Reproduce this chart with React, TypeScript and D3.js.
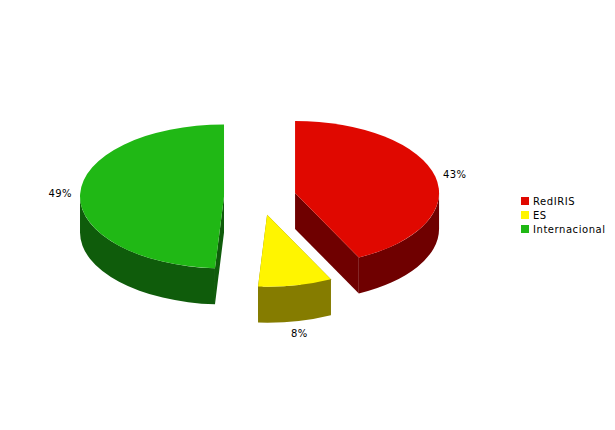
import React from 'react'
import * as d3 from 'd3'

const categories = ['RedIRIS', 'ES', 'Internacional']
const values = [42.7, 8.3, 49]
const topColors = ['#e00800', '#fff500', '#20b815']
const sideColors = ['#6f0000', '#857c00', '#0f5c0b']

const W = 615
const H = 430
const cx = 260
const cy = 197
const R = 144
const squash = 0.5
const depth = 36
const explode = 36
const labelR = 200

const fontFamily = '"DejaVu Sans", Verdana, sans-serif'

const pie = d3.pie<number>().sort(null).value(d => d)
const slices = pie(values)
const arc = d3.arc<d3.PieArcDatum<number>>().innerRadius(0).outerRadius(R)

// angle 0 is 12 o'clock, going clockwise
const rim = (a: number, r = R): [number, number] => [r * Math.sin(a), -r * Math.cos(a) * squash]

const outerWall = (a0: number, a1: number) => {
    // only the front half of the rim can be seen
    const from = Math.max(a0, Math.PI / 2)
    const to = Math.min(a1, Math.PI * 1.5)
    if (to <= from) return null
    const [x0, y0] = rim(from)
    const [x1, y1] = rim(to)
    const ry = R * squash
    return `M${x0},${y0}A${R},${ry} 0 0 1 ${x1},${y1}L${x1},${y1 + depth}A${R},${ry} 0 0 0 ${x0},${y0 + depth}Z`
}

const cutWall = (a: number) => {
    const [x, y] = rim(a)
    return `M0,0L${x},${y}L${x},${y + depth}L0,${depth}Z`
}

const App: React.FC = () => {
    return (
        <svg width={W} height={H} style={{ position: 'absolute', left: 0, top: 0, background: '#fff' }}>
            {[2, 0, 1].map(i => {
                const s = slices[i]
                const mid = (s.startAngle + s.endAngle) / 2
                const [dx, dy] = rim(mid, explode)
                return (
                    <g key={categories[i]} transform={`translate(${cx + dx},${cy + dy})`}>
                        <path d={cutWall(s.startAngle)} fill={sideColors[i]} />
                        <path d={cutWall(s.endAngle)} fill={sideColors[i]} />
                        <path d={outerWall(s.startAngle, s.endAngle) || ''} fill={sideColors[i]} />
                        <path d={arc(s) || ''} transform={`scale(1,${squash})`} fill={topColors[i]} />
                    </g>
                )
            })}
            {slices.map((s, i) => {
                const mid = (s.startAngle + s.endAngle) / 2
                const [lx, ly] = rim(mid, labelR)
                return (
                    <text
                        key={i}
                        x={cx + lx}
                        y={cy + ly + (Math.cos(mid) < 0 ? depth + 2 : 0)}
                        dy="0.35em"
                        textAnchor="middle"
                        fontFamily={fontFamily}
                        fontSize={10}
                        letterSpacing={0.4}
                        fill="#000"
                    >
                        {d3.format('d')(Math.round(values[i]))}%
                    </text>
                )
            })}
            {categories.map((c, i) => (
                <g key={c} transform={`translate(521,${201 + i * 14})`}>
                    <rect x={0} y={-4} width={8} height={8} fill={topColors[i]} />
                    <text x={12} y={0} dy="0.35em" fontFamily={fontFamily} fontSize={10} letterSpacing={0.55} fill="#000">
                        {c}
                    </text>
                </g>
            ))}
        </svg>
    )
}

export default App
